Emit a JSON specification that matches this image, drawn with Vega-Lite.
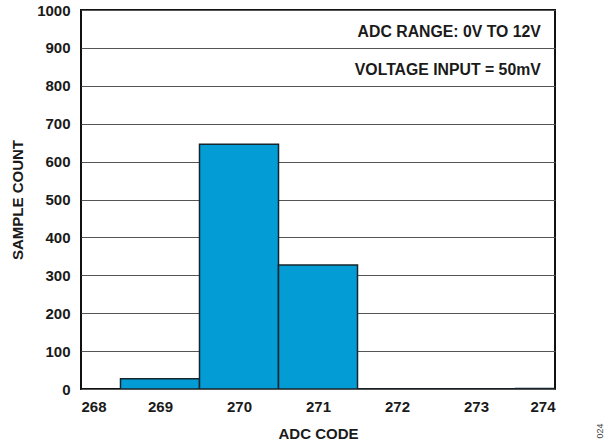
{
  "$schema": "https://vega.github.io/schema/vega-lite/v6.json",
  "autosize": "none",
  "width": 474,
  "height": 379,
  "padding": {"left": 81, "top": 10, "right": 55, "bottom": 56},
  "background": "white",
  "config": {
    "view": {"stroke": "#111111", "strokeWidth": 2},
    "font": "Liberation Sans",
    "axis": {
      "labelFont": "Liberation Sans",
      "titleFont": "Liberation Sans",
      "labelFontSize": 15,
      "titleFontSize": 15,
      "labelFontWeight": "bold",
      "titleFontWeight": "bold",
      "labelColor": "#1a1a1a",
      "titleColor": "#1a1a1a",
      "labelOverlap": false,
      "domain": false,
      "ticks": false,
      "gridColor": "#555555",
      "gridWidth": 1.2,
      "gridOpacity": 1
    }
  },
  "datasets": {
    "hist": [
      {"code": 269, "lo": 268.5, "hi": 269.5, "count": 27},
      {"code": 270, "lo": 269.5, "hi": 270.5, "count": 646},
      {"code": 271, "lo": 270.5, "hi": 271.5, "count": 327},
      {"code": 272, "lo": 271.5, "hi": 272.5, "count": 0},
      {"code": 273, "lo": 272.5, "hi": 273.5, "count": 0},
      {"code": 274, "lo": 273.5, "hi": 274.5, "count": 1}
    ],
    "notes": [
      {"label": "ADC RANGE: 0V TO 12V", "nx": 273.82, "ny": 942},
      {"label": "VOLTAGE INPUT = 50mV", "nx": 273.82, "ny": 842}
    ],
    "fig": [
      {"label": "024", "nx": 274.57, "ny": -111}
    ]
  },
  "encoding": {
    "x": {
      "type": "quantitative",
      "scale": {"domain": [268, 274], "nice": false},
      "axis": {"values": [268, 269, 270, 271, 272, 273, 274], "grid": false, "title": "ADC CODE", "labelPadding": 10, "titlePadding": 12, "format": "d", "labelOverlap": false}
    },
    "y": {
      "type": "quantitative",
      "scale": {"domain": [0, 1000], "nice": false},
      "axis": {"values": [0, 100, 200, 300, 400, 500, 600, 700, 800, 900, 1000], "grid": true, "title": "SAMPLE COUNT", "labelPadding": 11, "titlePadding": 11, "format": "d", "labelOverlap": false}
    }
  },
  "layer": [
    {
      "data": {"name": "hist"},
      "mark": {"type": "rect", "fill": "#049cd4", "stroke": "#15252d", "strokeWidth": 1.5, "clip": true},
      "encoding": {
        "x": {"field": "lo"},
        "x2": {"field": "hi"},
        "y": {"field": "count"},
        "y2": {"datum": 0}
      }
    },
    {
      "data": {"name": "notes"},
      "mark": {"type": "text", "align": "right", "baseline": "middle", "font": "Liberation Sans", "fontWeight": "bold", "fontSize": 15.8, "color": "#1a1a1a"},
      "encoding": {
        "text": {"field": "label"},
        "x": {"field": "nx"},
        "y": {"field": "ny"}
      }
    },
    {
      "data": {"name": "fig"},
      "mark": {"type": "text", "align": "center", "baseline": "middle", "angle": 270, "font": "Liberation Sans", "fontSize": 9, "color": "#444444", "clip": false},
      "encoding": {
        "text": {"field": "label"},
        "x": {"field": "nx"},
        "y": {"field": "ny"}
      }
    }
  ]
}
